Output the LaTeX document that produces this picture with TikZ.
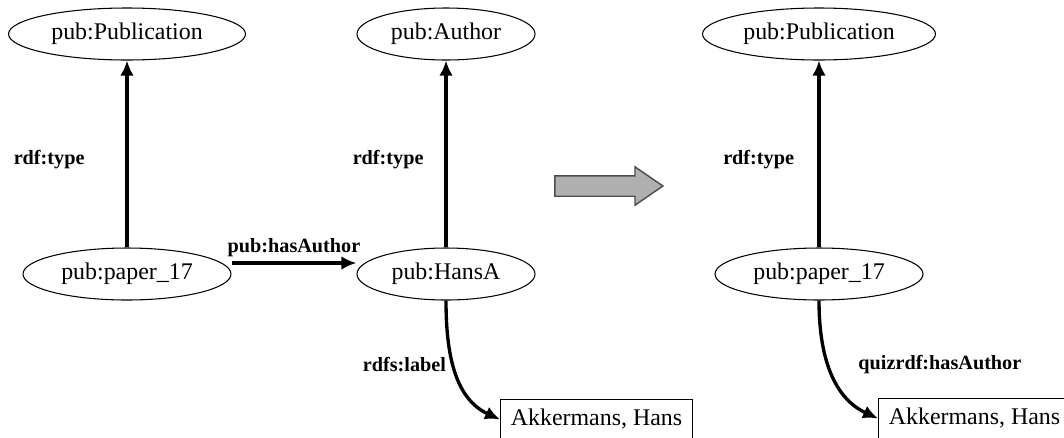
\documentclass[tikz,border=0pt]{standalone}
\usepackage{fontspec}
\setmainfont{Liberation Serif}
\usetikzlibrary{shapes,arrows.meta,positioning,calc}
\tikzset{
res/.style = {draw, ellipse, line width=0.6pt, inner sep=0pt, minimum height=1.04cm, font=\fontsize{13.6}{16}\selectfont},
lit/.style = {draw, rectangle, line width=0.6pt, minimum width=3.84cm, minimum height=0.8cm, font=\fontsize{13.6}{16}\selectfont},
prop/.style = {font=\fontsize{11.5}{14}\selectfont\bfseries},
rel/.style = {line width=1.9pt, -{Latex[length=0.3cm,width=0.27cm]}},
goes/.style = {draw=black!70, fill=black!31, line width=0.8pt, single arrow, inner xsep=0pt, inner ysep=0.19cm, minimum height=2.16cm, single arrow head extend=0.18cm, single arrow tip angle=69}
}
\begin{document}
\begin{tikzpicture}[node distance=4.8cm]
    \useasboundingbox (0,0) rectangle (21.28,-8.74);
    \node [res, minimum width=4.74cm] (pub1) at (2.54,-0.68) {pub:Publication};
    \node [res, minimum width=4.16cm, below of=pub1] (paper1) {pub:paper\_17};
    \node [res, minimum width=3.56cm, right of=paper1, node distance=6.38cm] (hans) {pub:HansA};
    \node [res, minimum width=3.56cm, above of=hans] (author) {pub:Author};
    \node [lit, anchor=north west] (akk1) at (10,-7.98) {Akkermans, Hans};
    \node [goes] (change) at (12.03,-3.72) {};
    \node [res, minimum width=4.66cm] (pub2) at (16.38,-0.68) {pub:Publication};
    \node [res, minimum width=4.16cm, below of=pub2] (paper2) {pub:paper\_17};
    \node [lit, anchor=north west] (akk2) at (17.56,-7.96) {Akkermans, Hans};
    % before
    \draw [rel] (paper1) -- node[prop, left=0.7cm, pos=0.47]{rdf:type} (pub1);
    \draw [rel] ([yshift=0.22cm]paper1.east) -- node[prop, above, inner sep=2.5pt]{pub:hasAuthor} ([yshift=0.22cm]hans.west);
    \draw [rel] (hans) -- node[prop, left=0.3cm, pos=0.47]{rdf:type} (author);
    \draw [rel] (hans.south) to[out=-90, in=155] node[prop, left, pos=0.45]{rdfs:label} (akk1.west);
    % after
    \draw [rel] (paper2) -- node[prop, left=0.35cm, pos=0.47]{rdf:type} (pub2);
    \draw [rel] (paper2.south) to[out=-90, in=155] node[prop, right=0.45cm, pos=0.45]{quizrdf:hasAuthor} (akk2.west);
\end{tikzpicture}
\end{document}
